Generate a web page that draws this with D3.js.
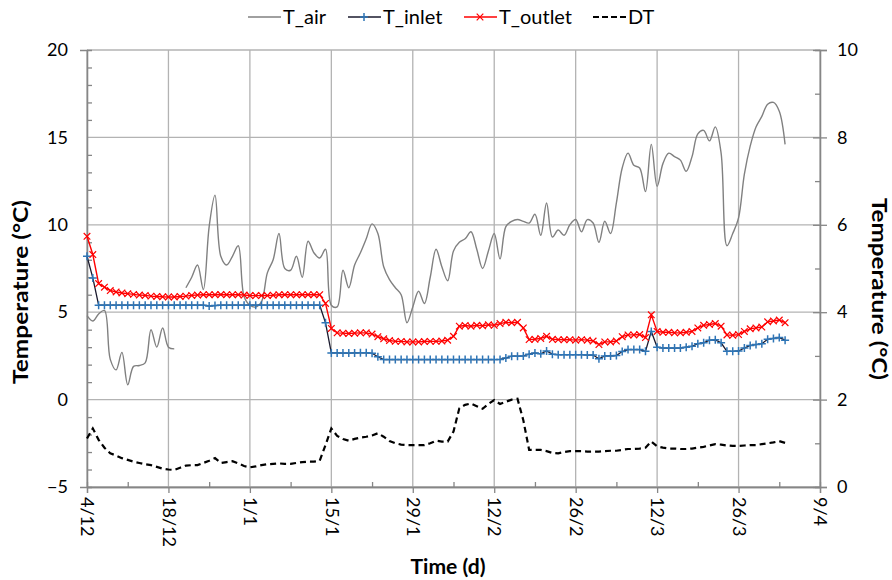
<!DOCTYPE html>
<html><head><meta charset="utf-8">
<script src="https://cdn.jsdelivr.net/npm/d3@7"></script>
<style>body{margin:0;background:#fff;} text{font-family:Lato,"Open Sans",sans-serif;}</style>
</head><body><svg id="c" width="892" height="580"></svg>
<script>
// x: days since 4/12
const xTickDays = [0,14,28,42,56,70,84,98,112,126];
const xTickLabels = ["4/12","18/12","1/1","15/1","29/1","12/2","26/2","12/3","26/3","9/4"];
const leftTicks = [-5,0,5,10,15,20];
const rightTicks = [0,2,4,6,8,10];

const tAir = [4.8,4.5,4.9,5.1,2.3,1.7,2.7,0.85,1.9,1.95,
 2.1,4.0,3.0,4.1,3.0,2.9,null,6.4,7.0,7.7,
 6.3,9.9,11.7,8.2,7.7,8.2,8.8,5.9,5.4,5.3,
 5.6,7.25,8.0,9.5,7.5,7.4,8.2,7.0,9.06,8.4,
 8.1,8.6,5.4,5.3,7.4,6.4,7.7,8.4,9.2,10.05,
 9.5,7.6,6.86,6.4,6.0,4.4,5.3,6.2,5.5,7.0,
 8.6,7.6,6.8,8.5,9.0,9.2,9.6,8.6,7.5,8.5,
 9.5,8.05,9.9,10.2,10.3,10.2,10.1,10.6,9.4,11.25,
 9.3,9.7,9.4,10.0,10.3,9.6,10.3,10.1,9.0,10.2,
 9.5,11.25,13.25,14.1,13.4,13.25,11.9,14.6,12.2,13.5,
 14.1,13.9,13.7,13.06,13.9,15.2,15.4,14.8,15.6,14.1,
 8.8,9.5,10.4,12.9,14.5,15.6,16.2,16.9,17.0,16.5,
 14.6];

const tInlet = [8.2,6.96,5.4,5.4,5.4,5.4,5.4,5.4,5.4,5.4,
 5.4,5.4,5.4,5.4,5.4,5.4,5.4,5.4,5.4,5.4,
 5.4,5.35,5.38,5.4,5.4,5.4,5.4,5.4,5.4,5.4,
 5.4,5.4,5.4,5.4,5.4,5.4,5.4,5.4,5.4,5.4,
 5.4,4.39,2.67,2.67,2.66,2.66,2.67,2.68,2.68,2.65,
 2.45,2.29,2.29,2.29,2.29,2.29,2.29,2.29,2.29,2.29,
 2.29,2.29,2.29,2.29,2.29,2.29,2.29,2.29,2.29,2.29,
 2.29,2.3,2.38,2.48,2.48,2.5,2.6,2.67,2.62,2.78,
 2.6,2.57,2.57,2.57,2.57,2.57,2.55,2.55,2.33,2.5,
 2.5,2.52,2.75,2.86,2.86,2.86,2.76,3.9,3.0,2.95,
 2.95,2.95,2.95,3.0,3.05,3.2,3.25,3.4,3.42,3.25,
 2.76,2.76,2.78,2.95,3.1,3.15,3.2,3.45,3.5,3.55,
 3.4];

const tOutlet = [9.34,8.3,6.64,6.43,6.24,6.16,6.1,6.06,6.02,5.98,
 5.96,5.92,5.9,5.88,5.87,5.87,5.9,5.92,5.96,5.98,
 6.0,6.0,6.0,6.01,6.0,6.0,6.0,5.98,5.95,5.95,
 5.95,5.95,5.97,6.0,6.0,6.0,6.0,6.0,6.0,6.0,
 6.0,5.5,4.07,3.82,3.8,3.78,3.8,3.82,3.82,3.75,
 3.6,3.48,3.38,3.33,3.33,3.3,3.3,3.3,3.32,3.33,
 3.33,3.35,3.4,3.62,4.2,4.24,4.2,4.25,4.22,4.28,
 4.25,4.35,4.42,4.4,4.42,4.1,3.43,3.45,3.5,3.62,
 3.45,3.43,3.42,3.43,3.4,3.43,3.4,3.35,3.15,3.3,
 3.3,3.35,3.6,3.7,3.7,3.72,3.55,4.85,3.9,3.85,
 3.85,3.82,3.82,3.85,3.9,4.1,4.25,4.3,4.35,4.2,
 3.7,3.68,3.72,3.9,4.05,4.1,4.15,4.45,4.5,4.55,
 4.4];

const dT = [1.11,1.34,1.08,0.9,0.77,0.72,0.66,0.62,0.58,0.55,
 0.52,0.5,0.46,0.42,0.4,0.39,0.44,0.49,0.5,0.5,
 0.55,0.6,0.66,0.55,0.57,0.59,0.54,0.48,0.45,0.47,
 0.5,0.52,0.53,0.54,0.53,0.53,0.55,0.57,0.58,0.58,
 0.6,0.96,1.34,1.17,1.1,1.06,1.1,1.13,1.15,1.18,
 1.23,1.15,1.05,1.0,0.97,0.96,0.96,0.96,0.96,1.0,
 1.06,1.04,1.04,1.27,1.8,1.88,1.91,1.85,1.79,1.9,
 1.99,1.9,1.95,2.0,2.02,1.53,0.85,0.85,0.85,0.82,
 0.78,0.77,0.8,0.82,0.82,0.82,0.81,0.81,0.81,0.82,
 0.83,0.83,0.85,0.87,0.87,0.88,0.9,1.04,0.93,0.9,
 0.88,0.88,0.87,0.87,0.88,0.9,0.92,0.95,0.98,0.97,
 0.95,0.94,0.94,0.95,0.96,0.96,0.98,1.0,1.02,1.05,
 1.01];

const seriesNames = ["T_air","T_inlet","T_outlet","DT"];

const L=87, R=820, T=50, B=487;
const svg = d3.select("#c");
const x = d3.scaleLinear().domain([0,126]).range([L,R]);
const yL = d3.scaleLinear().domain([-5,20]).range([B,T]);
const yR = d3.scaleLinear().domain([0,10]).range([B,T]);
const gridC = "#b3b3b3", axisC = "#868686";

// gridlines
svg.append("g").selectAll("line").data(leftTicks).join("line")
  .attr("x1",L).attr("x2",R).attr("y1",d=>yL(d)).attr("y2",d=>yL(d))
  .attr("stroke",gridC).attr("stroke-width",1.3);
svg.append("g").selectAll("line").data(xTickDays).join("line")
  .attr("x1",d=>x(d)).attr("x2",d=>x(d)).attr("y1",T).attr("y2",B)
  .attr("stroke",gridC).attr("stroke-width",1.3);

// axes
const axL = svg.append("g").attr("transform",`translate(${L},0)`)
  .call(d3.axisLeft(yL).tickValues(leftTicks).tickSize(7).tickPadding(12));
const axLm = svg.append("g").attr("transform",`translate(${L},0)`)
  .call(d3.axisRight(yL).tickValues(d3.range(-5,21,1).filter(v=>v%5!==0)).tickSize(5).tickFormat(""));
const axR = svg.append("g").attr("transform",`translate(${R},0)`)
  .call(d3.axisRight(yR).tickValues(rightTicks).tickSize(7).tickPadding(10));
const axRm = svg.append("g").attr("transform",`translate(${R},0)`)
  .call(d3.axisLeft(yR).tickValues(d3.range(1,10,2)).tickSize(5).tickFormat(""));
const axB = svg.append("g").attr("transform",`translate(0,${B})`)
  .call(d3.axisBottom(x).tickValues(xTickDays).tickSize(6).tickFormat((d,i)=>xTickLabels[i]));
const axBm = svg.append("g").attr("transform",`translate(0,${B})`)
  .call(d3.axisTop(x).tickValues(xTickDays.slice(0,-1).map(d=>d+7)).tickSize(5).tickFormat(""));
[axL,axLm,axR,axRm,axB,axBm].forEach(g=>{
  g.select(".domain").attr("stroke",axisC).attr("stroke-width",1.3);
  g.selectAll(".tick line").attr("stroke",axisC).attr("stroke-width",1.3);
  g.selectAll("text").attr("fill","#000").style("font-size","18px").style("font-family","Lato");
});
axR.selectAll(".tick line").attr("x1",-7);
axL.selectAll(".tick line").attr("x2",0);
axB.selectAll("text").attr("transform","rotate(90)").attr("text-anchor","start")
  .attr("x",10).attr("y",0).attr("dy","0.35em");

// titles
svg.append("text").attr("transform","translate(28,292) rotate(-90)").attr("text-anchor","middle")
  .attr("textLength",184).attr("lengthAdjust","spacingAndGlyphs")
  .style("font-size","20px").style("font-weight","bold").text("Temperature (°C)");
svg.append("text").attr("transform","translate(872,289) rotate(90)").attr("text-anchor","middle")
  .attr("textLength",182).attr("lengthAdjust","spacingAndGlyphs")
  .style("font-size","20px").style("font-weight","bold").text("Temperature (°C)");
svg.append("text").attr("x",448).attr("y",574).attr("text-anchor","middle")
  .attr("textLength",75).attr("lengthAdjust","spacingAndGlyphs")
  .style("font-size","20px").style("font-weight","bold").text("Time (d)");

const idx = d3.range(tInlet.length);
// T_air
svg.append("path").datum(tAir.map((v,i)=>[i,v]))
  .attr("fill","none").attr("stroke","#808080").attr("stroke-width",1.4)
  .attr("d", d3.line().defined(d=>d[1]!=null).x(d=>x(d[0])).y(d=>yL(d[1])).curve(d3.curveCatmullRom.alpha(0.5)));
// DT
svg.append("path").datum(dT.map((v,i)=>[i,v]))
  .attr("fill","none").attr("stroke","#000").attr("stroke-width",2.2).attr("stroke-dasharray","6,4")
  .attr("d", d3.line().x(d=>x(d[0])).y(d=>yR(d[1])));
// T_inlet
svg.append("path").datum(tInlet.map((v,i)=>[i,v]))
  .attr("fill","none").attr("stroke","#1a1a2e").attr("stroke-width",1.3)
  .attr("d", d3.line().x(d=>x(d[0])).y(d=>yL(d[1])));
const plus = (g,cx,cy,s)=>g.append("path").attr("d",`M${cx-s},${cy}H${cx+s}M${cx},${cy-s}V${cy+s}`)
  .attr("stroke","#2e75b6").attr("stroke-width",1.5).attr("fill","none");
const gi = svg.append("g");
idx.forEach(i=>plus(gi,x(i),yL(tInlet[i]),4));
// T_outlet
svg.append("path").datum(tOutlet.map((v,i)=>[i,v]))
  .attr("fill","none").attr("stroke","#ff0000").attr("stroke-width",1.4)
  .attr("d", d3.line().x(d=>x(d[0])).y(d=>yL(d[1])));
const cross = (g,cx,cy,s)=>g.append("path").attr("d",`M${cx-s},${cy-s}L${cx+s},${cy+s}M${cx-s},${cy+s}L${cx+s},${cy-s}`)
  .attr("stroke","#ff0000").attr("stroke-width",1.2).attr("fill","none");
const go = svg.append("g");
idx.forEach(i=>cross(go,x(i),yL(tOutlet[i]),3.3));

// legend
const leg = svg.append("g");
const legItems = [{x:248,tx:283},{x:348,tx:383},{x:464,tx:499},{x:593,tx:628}];
legItems.forEach((it,k)=>{
  const ly=17;
  const ln = leg.append("line").attr("x1",it.x).attr("x2",it.x+33).attr("y1",ly).attr("y2",ly);
  if(k===0) ln.attr("stroke","#808080").attr("stroke-width",1.4);
  if(k===1){ ln.attr("stroke","#1a1a2e").attr("stroke-width",1.3); plus(leg,it.x+16,ly,4); }
  if(k===2){ ln.attr("stroke","#ff0000").attr("stroke-width",1.4); cross(leg,it.x+16,ly,3.3); }
  if(k===3) ln.attr("stroke","#000").attr("stroke-width",2.2).attr("stroke-dasharray","6,3");
  leg.append("text").attr("x",it.tx).attr("y",ly).attr("dy","0.35em").style("font-size","20px").text(seriesNames[k]);
});
</script></body></html>
